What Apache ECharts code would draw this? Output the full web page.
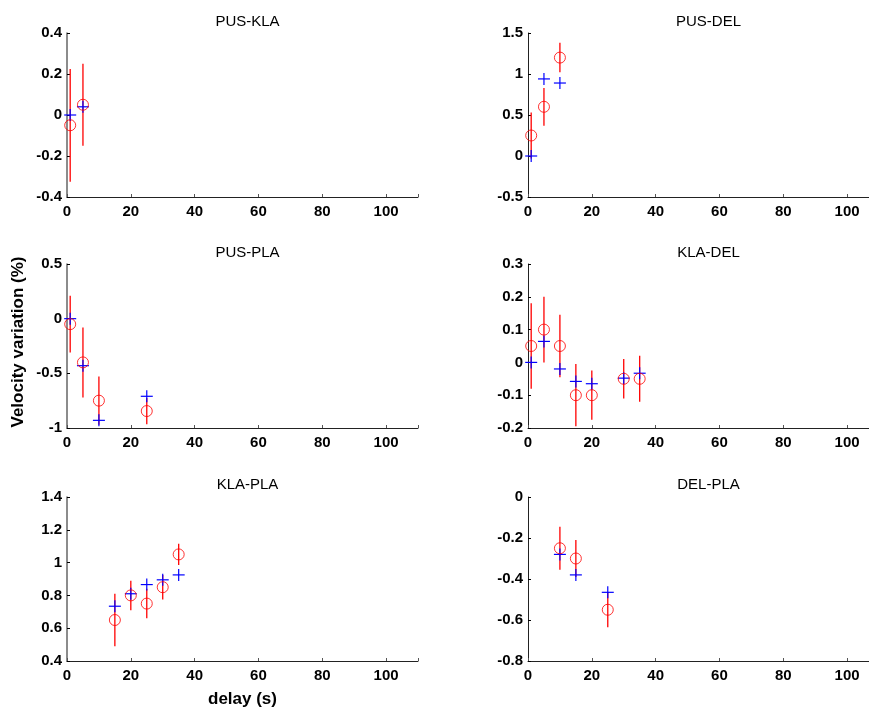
<!DOCTYPE html>
<html>
<head>
<meta charset="utf-8">
<script src="https://cdn.jsdelivr.net/npm/echarts@6/dist/echarts.min.js"></script>
<style>html,body{margin:0;padding:0;background:#fff}#c{width:869px;height:707px}</style>
</head>
<body>
<div id="c"></div>
<script>
// Panel titles
const titles = ['PUS-KLA', 'PUS-DEL', 'PUS-PLA', 'KLA-DEL', 'KLA-PLA', 'DEL-PLA'];
// y axis ranges / tick intervals
const yMins = [-0.4, -0.5, -1, -0.2, 0.4, -0.8];
const yMaxs = [0.4, 1.5, 0.5, 0.3, 1.4, 0];
const yIntervals = [0.2, 0.5, 0.5, 0.1, 0.2, 0.2];
const xTicks = [0, 20, 40, 60, 80, 100];

// PUS-KLA
const pusKlaX = [1, 5];
const pusKlaRed = [-0.05, 0.05];
const pusKlaErr = [0.275, 0.2];
const pusKlaBlue = [0, 0.04];
// PUS-DEL
const pusDelX = [1, 5, 10];
const pusDelRed = [0.25, 0.6, 1.2];
const pusDelErr = [0.28, 0.23, 0.18];
const pusDelBlue = [0, 0.94, 0.89];
// PUS-PLA
const pusPlaX = [1, 5, 10, 25];
const pusPlaRed = [-0.05, -0.4, -0.75, -0.845];
const pusPlaErr = [0.26, 0.32, 0.22, 0.12];
const pusPlaBlue = [0, -0.43, -0.93, -0.71];
// KLA-DEL
const klaDelX = [1, 5, 10, 15, 20, 30, 35];
const klaDelRed = [0.05, 0.1, 0.05, -0.1, -0.1, -0.05, -0.05];
const klaDelErr = [0.13, 0.1, 0.095, 0.095, 0.075, 0.06, 0.07];
const klaDelBlue = [0, 0.064, -0.02, -0.058, -0.065, -0.048, -0.033];
// KLA-PLA
const klaPlaX = [15, 20, 25, 30, 35];
const klaPlaRed = [0.65, 0.8, 0.75, 0.85, 1.05];
const klaPlaErr = [0.16, 0.09, 0.09, 0.075, 0.065];
const klaPlaBlue = [0.734, 0.81, 0.866, 0.895, 0.925];
// DEL-PLA
const delPlaX = [10, 15, 25];
const delPlaRed = [-0.25, -0.3, -0.55];
const delPlaErr = [0.105, 0.09, 0.085];
const delPlaBlue = [-0.28, -0.38, -0.465];

const panels = [
  [pusKlaX, pusKlaRed, pusKlaErr, pusKlaBlue],
  [pusDelX, pusDelRed, pusDelErr, pusDelBlue],
  [pusPlaX, pusPlaRed, pusPlaErr, pusPlaBlue],
  [klaDelX, klaDelRed, klaDelErr, klaDelBlue],
  [klaPlaX, klaPlaRed, klaPlaErr, klaPlaBlue],
  [delPlaX, delPlaRed, delPlaErr, delPlaBlue]
];

const FONT = '"Liberation Sans", Arial, sans-serif';
const rowTops = [33, 264, 497];
const gridH = 164;
const colLefts = [67, 528];
const gridW = 351;
const titleY = [9, 240, 472];

const grids = [], xAxes = [], yAxes = [], series = [], titleOpts = [];
for (let i = 0; i < 6; i++) {
  const r = Math.floor(i / 2), c = i % 2;
  grids.push({left: colLefts[c], top: rowTops[r], width: gridW, height: gridH,
    outerBoundsMode: 'none', containLabel: false});
  titleOpts.push({
    text: titles[i], left: colLefts[c] + gridW / 2, top: titleY[r], textAlign: 'center',
    textStyle: {fontFamily: FONT, fontSize: 15, fontWeight: 'normal', color: '#000'}
  });
  const axisColor = '#222';
  xAxes.push({
    gridIndex: i, type: 'value', min: 0, max: 110, interval: 20,
    axisLine: {show: true, onZero: false, lineStyle: {color: axisColor, width: 1}},
    axisTick: {show: true, inside: true, length: 3, lineStyle: {color: '#555'}},
    splitLine: {show: false},
    axisLabel: {
      fontFamily: FONT, fontSize: 15, fontWeight: 'bold', color: '#000', margin: 7,
      formatter: v => (xTicks.indexOf(v) >= 0 ? String(v) : '')
    },
    name: i === 4 ? 'delay (s)' : '', nameLocation: 'middle', nameGap: 30,
    nameTextStyle: {fontFamily: FONT, fontSize: 17, fontWeight: 'bold', color: '#000'}
  });
  yAxes.push({
    gridIndex: i, type: 'value', min: yMins[i], max: yMaxs[i], interval: yIntervals[i],
    axisLine: {show: true, onZero: false, lineStyle: {color: c === 0 ? '#666' : axisColor, width: c === 0 ? 1.5 : 1}},
    axisTick: {show: true, inside: true, length: 3, lineStyle: {color: '#000'}},
    splitLine: {show: false},
    axisLabel: {
      fontFamily: FONT, fontSize: 15, fontWeight: 'bold', color: '#000', margin: 5,
      formatter: v => String(Math.round(v * 100) / 100)
    }
  });
  const [xs, red, err, blue] = panels[i];
  const errData = xs.map((x, k) => [x, red[k] - err[k], red[k] + err[k]]);
  series.push({
    type: 'custom', xAxisIndex: i, yAxisIndex: i, data: errData, silent: true,
    encode: {x: 0, y: [1, 2]},
    renderItem: (params, api) => {
      const p1 = api.coord([api.value(0), api.value(1)]);
      const p2 = api.coord([api.value(0), api.value(2)]);
      return {type: 'line', shape: {x1: p1[0], y1: p1[1], x2: p2[0], y2: p2[1]},
        style: {stroke: '#ff0000', lineWidth: 1.3}};
    }
  });
  series.push({
    type: 'scatter', xAxisIndex: i, yAxisIndex: i, symbol: 'circle', symbolSize: 11,
    data: xs.map((x, k) => [x, red[k]]),
    itemStyle: {color: 'rgba(0,0,0,0)', borderColor: '#ff0000', borderWidth: 1}
  });
  series.push({
    type: 'custom', xAxisIndex: i, yAxisIndex: i, silent: true,
    data: xs.map((x, k) => [x, blue[k]]),
    encode: {x: 0, y: 1},
    renderItem: (params, api) => {
      const p = api.coord([api.value(0), api.value(1)]);
      const h = 6;
      return {type: 'group', children: [
        {type: 'line', shape: {x1: p[0] - h, y1: p[1], x2: p[0] + h, y2: p[1]}, style: {stroke: '#0000ff', lineWidth: 1.2}},
        {type: 'line', shape: {x1: p[0], y1: p[1] - h, x2: p[0], y2: p[1] + h}, style: {stroke: '#0000ff', lineWidth: 1.2}}
      ]};
    }
  });
}

const chart = echarts.init(document.getElementById('c'), null, {renderer: 'canvas'});
chart.setOption({
  backgroundColor: '#fff',
  animation: false,
  title: titleOpts,
  grid: grids, xAxis: xAxes, yAxis: yAxes, series: series,
  graphic: [{
    type: 'text', x: 18, y: 342, rotation: Math.PI / 2,
    style: {text: 'Velocity variation (%)', font: 'bold 17px ' + FONT, fill: '#000',
      textAlign: 'center', textVerticalAlign: 'middle'}
  }]
});
</script>
</body>
</html>
